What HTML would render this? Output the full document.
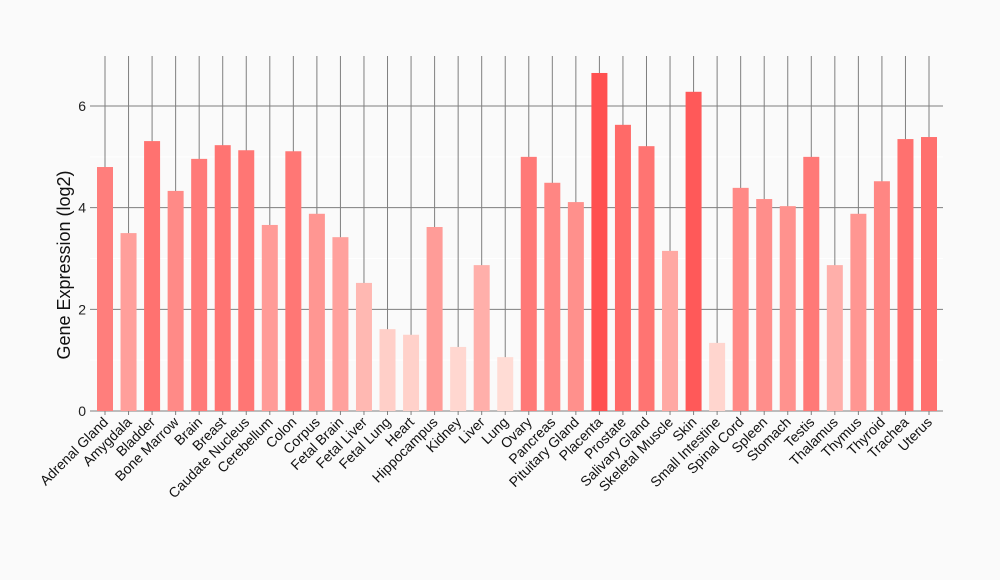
<!DOCTYPE html>
<html><head><meta charset="utf-8"><style>
body{margin:0;background:#fafafa;}
svg{display:block;font-family:"Liberation Sans",sans-serif;}
</style></head><body>
<svg id="c" width="1000" height="580"></svg>
<script>
const categories=["Adrenal Gland","Amygdala","Bladder","Bone Marrow","Brain","Breast","Caudate Nucleus","Cerebellum","Colon","Corpus","Fetal Brain","Fetal Liver","Fetal Lung","Heart","Hippocampus","Kidney","Liver","Lung","Ovary","Pancreas","Pituitary Gland","Placenta","Prostate","Salivary Gland","Skeletal Muscle","Skin","Small Intestine","Spinal Cord","Spleen","Stomach","Testis","Thalamus","Thymus","Thyroid","Trachea","Uterus"];
const values=[4.80,3.50,5.31,4.33,4.96,5.23,5.13,3.66,5.11,3.88,3.42,2.52,1.61,1.50,3.62,1.26,2.87,1.06,5.00,4.49,4.11,6.65,5.63,5.21,3.15,6.28,1.34,4.39,4.17,4.03,5.00,2.87,3.88,4.52,5.35,5.39];
const yTicks=[0,2,4,6];
const NS="http://www.w3.org/2000/svg";
const svgEl=document.getElementById('c');
const x0=105,step=23.543,plotTop=56,plotBottom=411;
const yScale=v=>411-v*50.83;
const xs=i=>x0+i*step;
function mk(t,a){const e=document.createElementNS(NS,t);for(const k in a)e.setAttribute(k,a[k]);svgEl.appendChild(e);return e;}
[1,3,5].forEach(v=>{const l=mk('line',{x1:90,x2:943,y1:yScale(v),y2:yScale(v),stroke:'#fff','stroke-width':1});

});
yTicks.forEach(v=>{const y=yScale(v);
const l=mk('line',{x1:90,x2:943,y1:y,y2:y,stroke:'#7f7f7f','stroke-width':1});


const t=mk('text',{x:86,y:y+5,'text-anchor':'end','font-size':14,fill:'#222'});t.textContent=v;

});
categories.forEach((c,i)=>{const x=xs(i);
const l=mk('line',{x1:x,x2:x,y1:plotTop,y2:plotBottom,stroke:'#7f7f7f','stroke-width':1});


const tk=mk('line',{x1:x,x2:x,y1:plotBottom,y2:plotBottom+4,stroke:'#7f7f7f'});

});
categories.forEach((c,i)=>{const x=xs(i),v=values[i];
const f=Math.max(0,Math.min(1,(v-1)/(6.65-1)));
const g=Math.round(222-142*f),b=Math.round(214-134*f);
const r=mk('rect',{x:x-8,y:yScale(v),width:16,height:plotBottom-yScale(v),fill:`rgb(255,${g},${b})`});


const t=mk('text',{x:x+4,y:plotBottom+12,'text-anchor':'end','font-size':14,fill:'#111',transform:`rotate(-45 ${x+4} ${plotBottom+12})`});
t.textContent=c;

});
const yl=mk('text',{x:70,y:265,'text-anchor':'middle','font-size':18,fill:'#111',transform:'rotate(-90 70 265)'});
yl.textContent='Gene Expression (log2)';


</script>
</body></html>
